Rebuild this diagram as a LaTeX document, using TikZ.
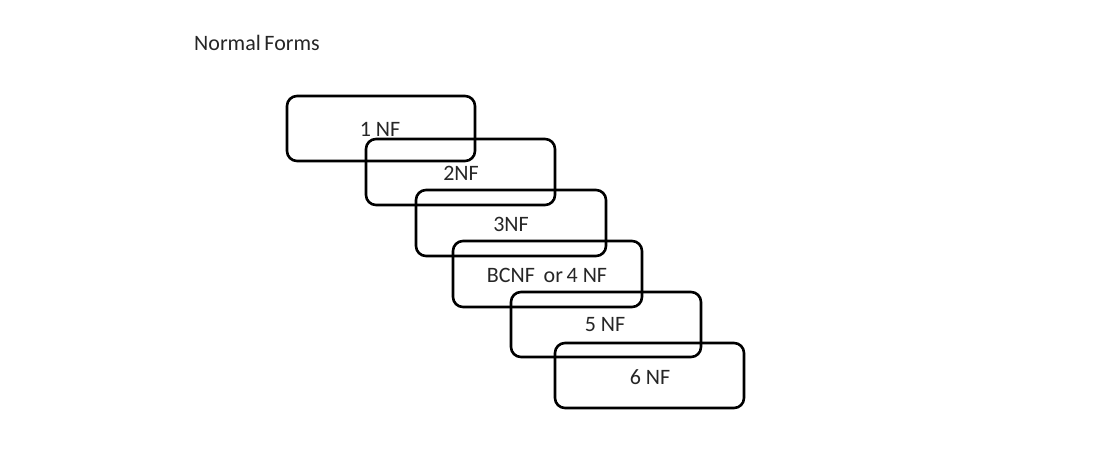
\documentclass[tikz,border=0pt]{standalone}
\usepackage{fontspec}
\setmainfont{Carlito}
\begin{document}
\begin{tikzpicture}[x=1pt,y=-1pt,
  nfbox/.style={draw=black,line width=2.6pt,rounded corners=10pt},
  lbl/.style={font=\fontsize{22}{24}\selectfont,text=black!85,inner sep=0pt}]
\useasboundingbox[fill=white] (0,0) rectangle (1105,461);
\node[lbl,anchor=west] (title) at (194,43) {Normal\,Forms};
\draw[nfbox] (287,96) rectangle (475,161);
\draw[nfbox] (366,139) rectangle (555,205);
\draw[nfbox] (416,190) rectangle (606,256);
\draw[nfbox] (453,241) rectangle (642,307);
\draw[nfbox] (511,292) rectangle (701,357);
\draw[nfbox] (555,343) rectangle (744,408);
\node[lbl] (t1) at (380,129) {1 NF};
\node[lbl] (t2) at (461,173) {2NF};
\node[lbl] (t3) at (511,224) {3NF};
\node[lbl] (t4) at (547,275) {BCNF\hspace{0.4em}or\,4 NF};
\node[lbl] (t5) at (605,325) {5 NF};
\node[lbl] (t6) at (650,377) {6 NF};
\end{tikzpicture}
\end{document}
